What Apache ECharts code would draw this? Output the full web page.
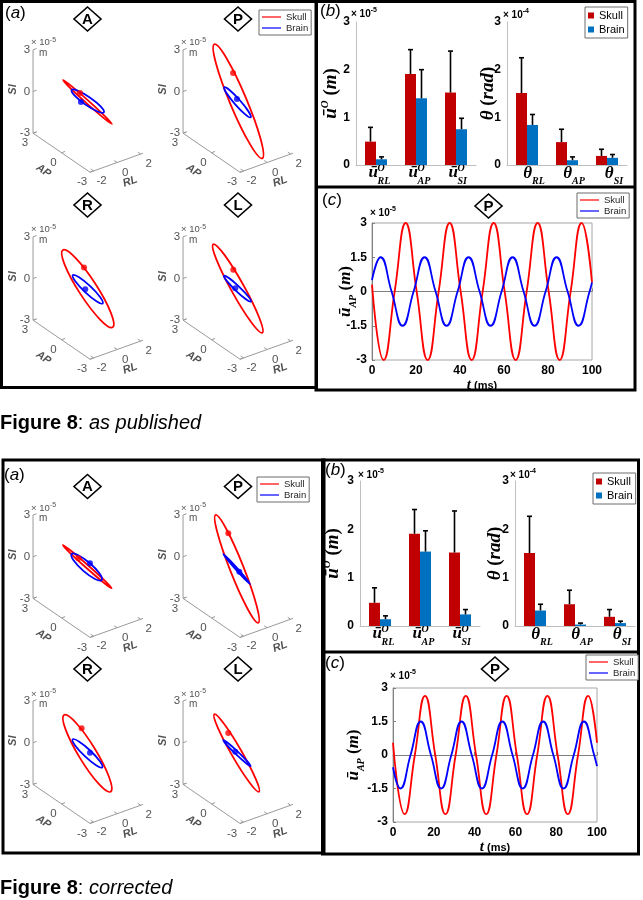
<!DOCTYPE html>
<html>
<head>
    <meta charset="utf-8">
    <title>Figure 8</title>
    <script src="https://cdn.jsdelivr.net/npm/echarts@6/dist/echarts.min.js"></script>
    <style>
        html, body { margin: 0; padding: 0; background: #fff; }
        #main { width: 643px; height: 900px; }
    </style>
</head>
<body>
<div id="main"></div>
<script type="text/javascript">
    // ---- data ----
    var viewNames = ['A', 'P', 'R', 'L'];
    // orbit ellipses per view: [centre u, centre v, semi-major, semi-minor, tilt deg] (projected, x10^-5 m)
    var skullOrbitPub = [[-0.08, -0.05, 2.37, 0.11, -41.9], [-0.02, 0.0, 4.45, 0.6, -67.2], [-0.06, -0.03, 3.31, 0.65, -57.1], [-0.06, -0.01, 3.64, 0.47, -61.0]];
    var brainOrbitPub = [[-0.06, 0.01, 1.41, 0.3, -34.6], [-0.08, -0.07, 1.44, 0.22, -48.7], [-0.06, -0.07, 1.48, 0.28, -43.3], [-0.08, -0.03, 1.34, 0.18, -43.6]];
    var skullDotPub = [[-0.62, 0.6], [-0.4, 2.04], [-0.33, 1.49], [-0.38, 1.33]];
    var brainDotPub = [[-0.55, -0.05], [-0.12, 0.17], [-0.24, -0.07], [-0.24, 0.0]];
    var skullOrbitCor = [[-0.1, -0.01, 2.35, 0.11, -41.5], [-0.12, -0.17, 4.17, 0.49, -68.4], [-0.09, -0.06, 3.23, 0.63, -58.7], [-0.14, -0.04, 3.22, 0.37, -60.0]];
    var brainOrbitCor = [[-0.14, -0.04, 1.43, 0.36, -40.9], [-0.14, -0.18, 1.45, 0.07, -48.3], [-0.08, -0.06, 1.47, 0.28, -43.4], [-0.12, -0.04, 1.36, 0.11, -43.5]];
    var skullDotCor = [[-0.74, 0.59], [-0.74, 2.39], [-0.5, 1.74], [-0.74, 1.41]];
    var brainDotCor = [[0.1, 0.23], [0.05, -0.37], [0.1, -0.01], [-0.24, 0.06]];

    var siTicks = [-3, 0, 3];
    var apTicks = [3, 0, -3];
    var rlTicks = [-2, 0, 2];
    var siRange = [-3, 3];
    var apRange = [-3, 3];
    var rlRange = [-2.3, 2.2];

    // (b) bar heights and whisker tops
    var barCats = ['RL', 'AP', 'SI'];
    var uSkullPub = [0.49, 1.91, 1.52], uSkullPubTop = [0.79, 2.42, 2.39];
    var uBrainPub = [0.12, 1.40, 0.75], uBrainPubTop = [0.17, 2.0, 0.98];
    var thSkullPub = [1.51, 0.48, 0.19], thSkullPubTop = [2.25, 0.75, 0.33];
    var thBrainPub = [0.84, 0.10, 0.15], thBrainPubTop = [1.06, 0.17, 0.22];
    var uSkullCor = [0.48, 1.91, 1.52], uSkullCorTop = [0.79, 2.41, 2.38];
    var uBrainCor = [0.14, 1.54, 0.24], uBrainCorTop = [0.21, 1.97, 0.34];
    var thSkullCor = [1.51, 0.45, 0.19], thSkullCorTop = [2.27, 0.74, 0.34];
    var thBrainCor = [0.32, 0.03, 0.06], thBrainCorTop = [0.45, 0.06, 0.10];

    // (c) u_AP(t): start, extrema, zero crossings, end  [t ms, x10^-5 m]
    var skullWavePub = [[0, 0.3], [5.3, -3], [10.3, 0], [15.3, 3], [20.3, 0], [25.3, -3], [30.3, 0], [35.3, 3], [40.3, 0], [45.3, -3], [50.3, 0],
        [55.3, 3], [60.3, 0], [65.3, -3], [70.3, 0], [75.3, 3], [80.3, 0], [85.3, -3], [90.3, 0], [95.3, 3], [100, 0.4]];
    var brainWavePub = [[0, 0.5], [3.9, 1.5], [8.9, 0], [13.9, -1.5], [18.9, 0], [23.9, 1.5], [28.9, 0], [33.9, -1.5], [38.9, 0], [43.9, 1.5], [48.9, 0],
        [53.9, -1.5], [58.9, 0], [63.9, 1.5], [68.9, 0], [73.9, -1.5], [78.9, 0], [83.9, 1.5], [88.9, 0], [93.9, -1.5], [98.9, 0], [100, 0.4]];
    var skullWaveCor = [[0, 0.55], [5.7, -2.65], [10.7, 0], [15.7, 2.65], [20.7, 0], [25.7, -2.65], [30.7, 0], [35.7, 2.65], [40.7, 0], [45.7, -2.65], [50.7, 0],
        [55.7, 2.65], [60.7, 0], [65.7, -2.65], [70.7, 0], [75.7, 2.65], [80.7, 0], [85.7, -2.65], [90.7, 0], [95.7, 2.65], [100, 0.55]];
    var brainWaveCor = [[0, -0.55], [3.6, -1.5], [8.6, 0], [13.6, 1.5], [18.6, 0], [23.6, -1.5], [28.6, 0], [33.6, 1.5], [38.6, 0], [43.6, -1.5], [48.6, 0],
        [53.6, 1.5], [58.6, 0], [63.6, -1.5], [68.6, 0], [73.6, 1.5], [78.6, 0], [83.6, -1.5], [88.6, 0], [93.6, 1.5], [98.6, 0], [100, -0.5]];

    // ---- layout ----
    var SANS = "'Liberation Sans', Arial, sans-serif";
    var SERIF = "'Liberation Serif', 'DejaVu Serif', serif";
    var RED = '#ff0000', BLUE = '#0000ff', BAR_RED = '#c00000', BAR_BLUE = '#0070c0';
    var K = 13.9;                       // px per projected unit
    var E_RL = [0.847, 0.304];          // projected direction of one RL unit
    var E_AP = [-0.683, 0.468];         // projected direction of one AP unit
    var originsPub = [[88.6, 101.3], [238.6, 101.3], [88.6, 288.3], [238.6, 288.3]];
    var originsCor = [[88.6, 566.5], [238.6, 566.5], [88.6, 752.5], [238.6, 752.5]];

    var grids = [], xAxes = [], yAxes = [], series = [], legends = [], graphics = [];

    function proj(rl, ap, si) {
        return [rl * E_RL[0] + ap * E_AP[0], rl * E_RL[1] + ap * E_AP[1] + si];
    }
    function shift(p, dx, dy) {
        return [p[0] + dx / K, p[1] - dy / K];
    }

    function renderOrbit(params, api) {
        var c = api.coord([api.value(0), api.value(1)]);
        var s = api.size([api.value(2), api.value(3)]);
        return {
            type: 'ellipse',
            x: c[0], y: c[1],
            rotation: api.value(4) * Math.PI / 180,
            shape: {cx: 0, cy: 0, rx: s[0], ry: Math.max(s[1], 0.6)},
            style: {fill: 'none', stroke: api.visual('color'), lineWidth: 1.8}
        };
    }

    function addView(o, skullOrbit, brainOrbit, skullDot, brainDot) {
        var gi = grids.length;
        grids.push({left: o[0] - 6 * K, top: o[1] - 6 * K, width: 12 * K, height: 12 * K});
        xAxes.push({gridIndex: gi, type: 'value', min: -6, max: 6, show: false});
        yAxes.push({gridIndex: gi, type: 'value', min: -6, max: 6, show: false});
        var rl0 = rlRange[0], rl1 = rlRange[1], ap0 = apRange[0], ap1 = apRange[1], si0 = siRange[0], si1 = siRange[1];

        var segs = [{coords: [proj(rl0, ap1, si1), proj(rl0, ap1, si0), proj(rl0, ap0, si0), proj(rl1, ap0, si0)]}];
        siTicks.forEach(function (s) { segs.push({coords: [proj(rl0, ap1, s), proj(rl0 + 0.3, ap1, s)]}); });
        apTicks.forEach(function (a) { segs.push({coords: [proj(rl0, a, si0), proj(rl0 + 0.3, a, si0)]}); });
        rlTicks.forEach(function (r) { segs.push({coords: [proj(r, ap0, si0), proj(r, ap0 + 0.3, si0)]}); });
        series.push({
            type: 'lines', coordinateSystem: 'cartesian2d', xAxisIndex: gi, yAxisIndex: gi,
            polyline: true, silent: true, lineStyle: {color: '#9a9a9a', width: 1, opacity: 1}, data: segs
        });

        var texts = [];
        siTicks.forEach(function (s) {
            texts.push({value: shift(proj(rl0, ap1, s), -3, 0), label: {formatter: String(s), align: 'right'}});
        });
        apTicks.forEach(function (a) {
            texts.push({value: shift(proj(rl0, a, si0), -8, 10), label: {formatter: String(a)}});
        });
        rlTicks.forEach(function (r) {
            texts.push({value: shift(proj(r, ap0, si0), 8, 10), label: {formatter: String(r)}});
        });
        var nameStyle = {fontWeight: 'bold', fontStyle: 'italic', fontSize: 11, color: '#262626'};
        texts.push({value: shift(proj(rl0, ap1, 0), -20, -2), label: Object.assign({formatter: 'SI', rotate: 90}, nameStyle)});
        texts.push({value: shift(proj(rl0, 0, si0), -18, 18), label: Object.assign({formatter: 'AP', rotate: -34}, nameStyle)});
        texts.push({value: shift(proj(0, ap0, si0), 13, 19), label: Object.assign({formatter: 'RL', rotate: 20}, nameStyle)});
        texts.push({value: shift(proj(rl0, ap1, si1), -2, -7), label: {formatter: '{a|× 10}{e|-5}', align: 'left'}});
        texts.push({value: shift(proj(rl0, ap1, si1), 6, 3.5), label: {formatter: 'm', align: 'left', fontSize: 10}});
        series.push({
            type: 'scatter', xAxisIndex: gi, yAxisIndex: gi, silent: true, clip: false,
            symbolSize: 1, itemStyle: {color: 'rgba(0,0,0,0)'},
            label: {
                show: true, position: 'inside', color: '#262626', fontSize: 11.5, fontFamily: SANS,
                rich: {
                    a: {fontSize: 9.5, color: '#262626', lineHeight: 12},
                    e: {fontSize: 7, color: '#262626', verticalAlign: 'top', lineHeight: 7}
                }
            },
            data: texts
        });

        series.push({type: 'custom', name: 'Skull', xAxisIndex: gi, yAxisIndex: gi, itemStyle: {color: RED},
            renderItem: renderOrbit, data: [skullOrbit], z: 3});
        series.push({type: 'custom', name: 'Brain', xAxisIndex: gi, yAxisIndex: gi, itemStyle: {color: BLUE},
            renderItem: renderOrbit, data: [brainOrbit], z: 4});
        series.push({type: 'scatter', name: 'Skull', xAxisIndex: gi, yAxisIndex: gi, symbolSize: 6,
            itemStyle: {color: RED}, data: [skullDot], z: 5});
        series.push({type: 'scatter', name: 'Brain', xAxisIndex: gi, yAxisIndex: gi, symbolSize: 6,
            itemStyle: {color: BLUE}, data: [brainDot], z: 5});
    }

    for (var i = 0; i < 4; i++) {
        addView(originsPub[i], skullOrbitPub[i], brainOrbitPub[i], skullDotPub[i], brainDotPub[i]);
        addView(originsCor[i], skullOrbitCor[i], brainOrbitCor[i], skullDotCor[i], brainDotCor[i]);
    }

    // ---- (b) bar charts ----
    var mathBold = {fontFamily: SERIF, fontStyle: 'italic', fontWeight: 'bold', color: '#000'};
    function mb(extra) { return Object.assign({}, mathBold, extra); }
    // u-bar^O_xx : superscript O on line 1, u-bar pulled up into it on line 2, subscript after it
    var uCatRich = {
        sp: {width: 9, fontSize: 10, lineHeight: 8, height: 8, align: 'left'},
        o: mb({fontSize: 10, lineHeight: 8, height: 8, width: 16, align: 'left'}),
        u: mb({fontSize: 17, lineHeight: 1, height: 0.5, verticalAlign: 'top', width: 9, align: 'left'}),
        s: mb({fontSize: 10, lineHeight: 18, width: 16, align: 'left'})
    };
    var thCatRich = {
        t: mb({fontSize: 17, lineHeight: 17}),
        s: mb({fontSize: 10, lineHeight: 17, height: 1, verticalAlign: 'bottom'})
    };
    var uNameRich = {
        u: mb({fontSize: 19, lineHeight: 22}),
        o: mb({fontSize: 11, lineHeight: 12, verticalAlign: 'top'}),
        p: mb({fontSize: 19, lineHeight: 22, fontStyle: 'normal'}),
        m: mb({fontSize: 19, lineHeight: 22})
    };
    var thNameRich = {
        t: mb({fontSize: 19, lineHeight: 22}),
        p: mb({fontSize: 19, lineHeight: 22, fontStyle: 'normal'}),
        r: mb({fontSize: 19, lineHeight: 22})
    };

    function whisker(side) {
        return function (params, api) {
            var idx = api.value(0);
            var base = api.coord([idx, api.value(1)]);
            var top = api.coord([idx, api.value(2)]);
            var band = api.size([1, 0])[0];
            var x = base[0] + side * band * 0.1375;
            return {
                type: 'group', children: [
                    {type: 'line', shape: {x1: x, y1: base[1], x2: x, y2: top[1]}, style: {stroke: '#000', lineWidth: 1.6}},
                    {type: 'line', shape: {x1: x - 2.5, y1: top[1], x2: x + 2.5, y2: top[1]}, style: {stroke: '#000', lineWidth: 1.6}}
                ]
            };
        };
    }

    function addBars(box, skull, skullTop, brain, brainTop, kind, nameGap) {
        var gi = grids.length;
        grids.push({left: box[0], top: box[1], width: box[2], height: box[3]});
        var isU = kind === 'u';
        xAxes.push({
            gridIndex: gi, type: 'category', data: barCats,
            axisLine: {lineStyle: {color: '#bfbfbf', width: 1}}, axisTick: {show: false},
            axisLabel: {
                interval: 0, margin: isU ? -1 : 0, padding: isU ? [0, 0, 0, 10] : [0, 0, 0, 14],
                formatter: isU ? function (v) { return '{sp| }{o|O}\n{u|ū}{s|' + v + '}'; }
                               : function (v) { return '{t|θ}{s|' + v + '}'; },
                rich: isU ? uCatRich : thCatRich
            }
        });
        yAxes.push({
            gridIndex: gi, type: 'value', min: 0, max: 3, interval: 1,
            axisLine: {show: true, lineStyle: {color: '#bfbfbf', width: 1}}, axisTick: {show: false}, splitLine: {show: false},
            axisLabel: {fontSize: 12, fontWeight: 'bold', color: '#000', fontFamily: SANS, margin: 6},
            name: isU ? '{u|ū}{o|O}{p| (}{m|m}{p|)}' : '{t|θ}{p| (}{r|rad}{p|)}',
            nameLocation: 'middle', nameRotate: 90, nameGap: nameGap, nameMoveOverlap: false,
            nameTextStyle: {rich: isU ? uNameRich : thNameRich}
        });
        series.push({type: 'bar', name: 'Skull', xAxisIndex: gi, yAxisIndex: gi, data: skull,
            itemStyle: {color: BAR_RED}, barGap: '0%', barCategoryGap: '45%'});
        series.push({type: 'bar', name: 'Brain', xAxisIndex: gi, yAxisIndex: gi, data: brain,
            itemStyle: {color: BAR_BLUE}, barGap: '0%', barCategoryGap: '45%'});
        series.push({type: 'custom', xAxisIndex: gi, yAxisIndex: gi, renderItem: whisker(-1), encode: {x: 0, y: [1, 2]},
            data: skull.map(function (v, j) { return [j, v, skullTop[j]]; }), z: 5});
        series.push({type: 'custom', xAxisIndex: gi, yAxisIndex: gi, renderItem: whisker(1), encode: {x: 0, y: [1, 2]},
            data: brain.map(function (v, j) { return [j, v, brainTop[j]]; }), z: 5});
    }

    addBars([356, 22, 120, 143], uSkullPub, uSkullPubTop, uBrainPub, uBrainPubTop, 'u', 14);
    addBars([507, 22, 120, 143], thSkullPub, thSkullPubTop, thBrainPub, thBrainPubTop, 'th', 8);
    addBars([360, 481, 120, 145], uSkullCor, uSkullCorTop, uBrainCor, uBrainCorTop, 'u', 16);
    addBars([515, 481, 120, 145], thSkullCor, thSkullCorTop, thBrainCor, thBrainCorTop, 'th', 9);

    // ---- (c) time traces ----
    var yNameRich = {
        u: mb({fontSize: 17, lineHeight: 17}),
        s: mb({fontSize: 10, lineHeight: 17, height: 1, verticalAlign: 'bottom'}),
        p: mb({fontSize: 17, lineHeight: 17, fontStyle: 'normal'}),
        m: mb({fontSize: 17, lineHeight: 17})
    };
    function addTrace(box, skull, brain, yGap) {
        var gi = grids.length;
        grids.push({left: box[0], top: box[1], width: box[2], height: box[3], show: true, borderColor: '#a6a6a6', borderWidth: 1});
        var tick = {inside: true, length: 3, lineStyle: {color: '#808080'}};
        var lbl = {fontSize: 12, fontWeight: 'bold', color: '#000', fontFamily: SANS};
        xAxes.push({
            gridIndex: gi, type: 'value', min: 0, max: 100, interval: 20,
            axisLine: {lineStyle: {color: '#808080'}}, axisTick: tick, splitLine: {show: false},
            axisLabel: Object.assign({margin: 5}, lbl),
            name: '{t|t}{n| (ms)}', nameLocation: 'middle', nameGap: 18, nameMoveOverlap: false,
            nameTextStyle: {rich: {t: mb({fontSize: 15}), n: {fontSize: 11, fontWeight: 'bold', fontFamily: SANS, color: '#000'}}}
        });
        yAxes.push({
            gridIndex: gi, type: 'value', min: -3, max: 3, interval: 1.5,
            axisLine: {lineStyle: {color: '#808080'}}, axisTick: tick, splitLine: {show: false},
            axisLabel: Object.assign({margin: 5}, lbl),
            name: '{u|ū}{s|AP}{p| (}{m|m}{p|)}', nameLocation: 'middle', nameRotate: 90, nameGap: yGap, nameMoveOverlap: false,
            nameTextStyle: {rich: yNameRich}
        });
        series.push({type: 'line', name: 'Skull', xAxisIndex: gi, yAxisIndex: gi, data: skull, smooth: 0.5,
            showSymbol: false, lineStyle: {color: RED, width: 1.8}, itemStyle: {color: RED}});
        series.push({type: 'line', name: 'Brain', xAxisIndex: gi, yAxisIndex: gi, data: brain, smooth: 0.5,
            showSymbol: false, lineStyle: {color: BLUE, width: 1.8}, itemStyle: {color: BLUE}});
    }
    addTrace([372, 223, 220, 137], skullWavePub, brainWavePub, 18);
    addTrace([393, 688, 204, 134], skullWaveCor, brainWaveCor, 31);

    // ---- legends ----
    function lineLegend(left, top) {
        return {
            left: left, top: top, orient: 'vertical', selectedMode: false,
            itemWidth: 19, itemHeight: 1.2, itemGap: 1, padding: [2, 3, 2, 3],
            borderColor: '#6d6d6d', borderWidth: 1, backgroundColor: '#fff',
            textStyle: {fontSize: 9.5, color: '#262626', fontFamily: SANS},
            data: [{name: 'Skull', icon: 'rect', itemStyle: {color: RED}}, {name: 'Brain', icon: 'rect', itemStyle: {color: BLUE}}]
        };
    }
    function barLegend(left, top) {
        return {
            left: left, top: top, orient: 'vertical', selectedMode: false,
            itemWidth: 6, itemHeight: 6, itemGap: 3, padding: [3, 3, 3, 3],
            borderColor: '#6d6d6d', borderWidth: 1, backgroundColor: '#fff',
            textStyle: {fontSize: 11, color: '#000', fontFamily: SANS},
            data: [{name: 'Skull', icon: 'rect', itemStyle: {color: BAR_RED}}, {name: 'Brain', icon: 'rect', itemStyle: {color: BAR_BLUE}}]
        };
    }
    legends.push(lineLegend(259, 10), barLegend(585, 7), lineLegend(577, 193));
    legends.push(lineLegend(257, 477), barLegend(593, 473), lineLegend(586, 655));

    // ---- frames, panel tags, markers, captions ----
    function frame(x, y, w, h) {
        graphics.push({type: 'rect', silent: true, shape: {x: x, y: y, width: w, height: h},
            style: {fill: 'none', stroke: '#000', lineWidth: 3}});
    }
    function hline(x1, x2, y) {
        graphics.push({type: 'line', silent: true, shape: {x1: x1, y1: y, x2: x2, y2: y}, style: {stroke: '#000', lineWidth: 3}});
    }
    function tag(x, y, letter) {
        graphics.push({type: 'text', x: x, y: y, silent: true, style: {
            text: '{n|(}{i|' + letter + '}{n|)}', verticalAlign: 'middle', align: 'left',
            rich: {n: {fontSize: 17, fontFamily: SANS, color: '#000'}, i: {fontSize: 17, fontFamily: SANS, fontStyle: 'italic', color: '#000'}}
        }});
    }
    function diamond(cx, cy, letter) {
        graphics.push({type: 'polygon', silent: true, shape: {points: [[cx, cy - 12], [cx + 13.5, cy], [cx, cy + 12], [cx - 13.5, cy]]},
            style: {fill: '#fff', stroke: '#000', lineWidth: 1.6}});
        graphics.push({type: 'text', x: cx, y: cy + 0.5, silent: true, style: {
            text: letter, fontSize: 15, fontWeight: 'bold', fontFamily: SANS, fill: '#000', align: 'center', verticalAlign: 'middle'}});
    }
    function mult(x, y, exp) {
        graphics.push({type: 'text', x: x, y: y, silent: true, style: {
            text: '{a|× 10}{e|' + exp + '}', align: 'left', verticalAlign: 'middle',
            rich: {a: {fontSize: 10, fontWeight: 'bold', fontFamily: SANS, color: '#000', lineHeight: 14},
                   e: {fontSize: 7, fontWeight: 'bold', fontFamily: SANS, color: '#000', lineHeight: 8, verticalAlign: 'top'}}
        }});
    }
    function caption(y, words) {
        graphics.push({type: 'text', x: 0, y: y, silent: true, style: {
            text: '{b|Figure 8}{n|: }{i|' + words + '}', align: 'left', verticalAlign: 'middle',
            rich: {b: {fontSize: 20, fontWeight: 'bold', fontFamily: SANS, color: '#000'},
                   n: {fontSize: 20, fontFamily: SANS, color: '#000'},
                   i: {fontSize: 20, fontStyle: 'italic', fontFamily: SANS, color: '#000'}}
        }});
    }

    frame(1.5, 1.5, 315, 386);
    frame(316, 1.5, 319, 388.5);
    hline(316, 635, 187);
    frame(3, 460, 321, 393);
    frame(322.5, 460, 316, 394);
    hline(322.5, 638.5, 652);

    tag(5, 13, 'a'); tag(320, 11.5, 'b'); tag(322, 200, 'c');
    tag(4, 475, 'a'); tag(325, 470, 'b'); tag(325, 663, 'c');

    diamond(87.5, 19, viewNames[0]); diamond(238, 19, viewNames[1]);
    diamond(87.5, 205, viewNames[2]); diamond(238, 205, viewNames[3]);
    diamond(488.5, 206, 'P');
    diamond(87.5, 486.5, viewNames[0]); diamond(238, 486.5, viewNames[1]);
    diamond(87.5, 669, viewNames[2]); diamond(238, 669, viewNames[3]);
    diamond(495, 669, 'P');

    mult(351, 14, '-5'); mult(503, 15, '-4'); mult(370, 213, '-5');
    mult(358, 475, '-5'); mult(510, 475, '-4'); mult(390, 676, '-5');

    caption(423, 'as published');
    caption(888, 'corrected');

    var myChart = echarts.init(document.getElementById('main'));
    myChart.setOption({
        animation: false,
        backgroundColor: '#fff',
        grid: grids,
        xAxis: xAxes,
        yAxis: yAxes,
        legend: legends,
        graphic: {elements: graphics},
        series: series
    });
</script>
</body>
</html>
